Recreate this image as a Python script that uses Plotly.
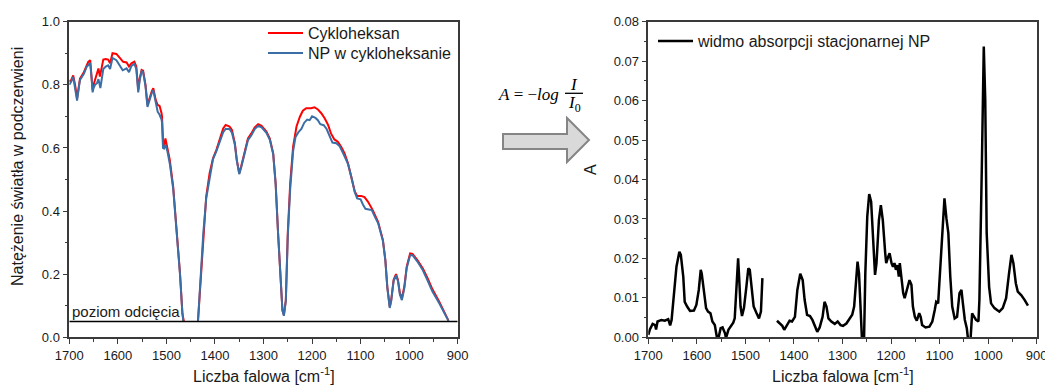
import plotly.graph_objects as go

# ---------------- data ----------------
CUTOFF = 0.05

# IR intensity, pure cyclohexane (None = gap below the cut-off level)
wn_cyclohexane = [
    1700, 1696, 1692, 1688, 1684, 1680, 1678, 1670, 1664, 1661, 1657, 1654, 1652, 1650,
    1647, 1643, 1640, 1637, 1633, 1630, 1625, 1620, 1616, 1613, 1611, 1603, 1596, 1589,
    1582, 1577, 1572, 1566, 1562, 1560, 1558, 1555, 1551, 1548, 1543, 1539, 1534, 1530,
    1527, 1522, 1518, 1514, 1510, 1509, 1507, 1505, 1502, 1498, 1493, 1486, 1479, 1472,
    1467, 1464, None,
    1435, 1431, 1424, 1418, 1411, 1404, 1397, 1390, 1383, 1378, 1370, 1365, 1359, 1355,
    1350, 1346, 1339, 1332, 1325, 1318, 1311, 1304, 1294, 1287, 1280, 1275, 1270, 1265,
    1261, 1258, 1254, 1250, 1245, 1239, 1232, 1225, 1219, 1212, 1202, 1195, 1188, 1181,
    1174, 1167, 1161, 1154, 1147, 1140, 1133, 1126, 1119, 1112, 1107, 1099, 1092, 1085,
    1075, 1064, 1054, 1049, 1045, 1040, 1037, 1032, 1027, 1023, 1019, 1015, 1010, 1005,
    998, 993, 983, 972, 962, 952, 938, 927, 919,
]
i_cyclohexane = [
    0.81, 0.815, 0.83, 0.80, 0.757, 0.80, 0.82, 0.84, 0.865, 0.873, 0.878, 0.83, 0.784, 0.80,
    0.815, 0.83, 0.852, 0.826, 0.86, 0.88, 0.882, 0.88, 0.868, 0.885, 0.90, 0.898, 0.885, 0.873,
    0.871, 0.858, 0.868, 0.873, 0.858, 0.82, 0.784, 0.82, 0.847, 0.845, 0.80, 0.736, 0.763, 0.78,
    0.789, 0.752, 0.736, 0.733, 0.71, 0.699, 0.625, 0.604, 0.63, 0.604, 0.562, 0.477, 0.35, 0.203,
    0.076, 0.05, None,
    0.05, 0.15, 0.33, 0.446, 0.52, 0.567, 0.594, 0.63, 0.662, 0.673, 0.668, 0.657, 0.615, 0.562,
    0.52, 0.541, 0.583, 0.63, 0.646, 0.665, 0.675, 0.67, 0.652, 0.63, 0.583, 0.488, 0.33, 0.171,
    0.086, 0.071, 0.118, 0.33, 0.488, 0.604, 0.668, 0.699, 0.718, 0.726, 0.726, 0.729, 0.722, 0.71,
    0.694, 0.673, 0.646, 0.627, 0.62, 0.604, 0.583, 0.551, 0.509, 0.462, 0.448, 0.448, 0.444, 0.43,
    0.403, 0.366, 0.308, 0.245, 0.16, 0.097, 0.118, 0.182, 0.20, 0.182, 0.139, 0.124, 0.16, 0.224,
    0.266, 0.264, 0.245, 0.219, 0.187, 0.152, 0.113, 0.081, 0.053,
]

# IR intensity, nanoparticles dispersed in cyclohexane
wn_np = [
    1700, 1696, 1692, 1688, 1684, 1680, 1678, 1670, 1664, 1661, 1657, 1654, 1652, 1650,
    1647, 1643, 1640, 1636, 1633, 1630, 1625, 1620, 1616, 1613, 1611, 1603, 1596, 1590,
    1582, 1577, 1572, 1566, 1562, 1560, 1558, 1555, 1551, 1548, 1543, 1539, 1534, 1530,
    1527, 1522, 1518, 1514, 1510, 1509, 1507, 1505, 1502, 1498, 1493, 1486, 1479, 1472,
    1467, 1465, None,
    1435, 1431, 1424, 1418, 1411, 1404, 1397, 1390, 1383, 1378, 1370, 1365, 1359, 1355,
    1350, 1346, 1339, 1332, 1325, 1318, 1311, 1304, 1294, 1287, 1280, 1275, 1270, 1265,
    1261, 1258, 1254, 1250, 1245, 1239, 1234, 1228, 1222, 1216, 1210, 1205, 1200, 1193,
    1188, 1183, 1176, 1170, 1164, 1158, 1150, 1143, 1135, 1126, 1119, 1112, 1107, 1100,
    1095, 1090, 1083, 1077, 1070, 1064, 1054, 1049, 1045, 1040, 1037, 1032, 1027, 1023,
    1019, 1015, 1010, 1005, 998, 993, 983, 972, 962, 952, 938, 927, 919,
]
i_np = [
    0.80, 0.81, 0.825, 0.79, 0.75, 0.795, 0.815, 0.835, 0.858, 0.862, 0.87, 0.82, 0.776, 0.79,
    0.80, 0.805, 0.818, 0.79, 0.83, 0.85, 0.858, 0.862, 0.85, 0.872, 0.885, 0.878, 0.86, 0.846,
    0.852, 0.84, 0.86, 0.866, 0.85, 0.81, 0.776, 0.815, 0.843, 0.84, 0.795, 0.73, 0.758, 0.775,
    0.783, 0.74, 0.715, 0.705, 0.69, 0.68, 0.60, 0.598, 0.61, 0.59, 0.55, 0.47, 0.345, 0.20,
    0.074, 0.05, None,
    0.05, 0.15, 0.33, 0.44, 0.51, 0.565, 0.59, 0.62, 0.65, 0.66, 0.66, 0.648, 0.61, 0.56,
    0.517, 0.538, 0.58, 0.625, 0.64, 0.66, 0.67, 0.665, 0.648, 0.626, 0.58, 0.485, 0.33, 0.17,
    0.085, 0.068, 0.115, 0.32, 0.47, 0.59, 0.635, 0.65, 0.66, 0.68, 0.69, 0.688, 0.70, 0.695,
    0.688, 0.675, 0.672, 0.66, 0.64, 0.617, 0.615, 0.605, 0.58, 0.55, 0.508, 0.46, 0.44, 0.437,
    0.42, 0.407, 0.405, 0.403, 0.38, 0.362, 0.305, 0.243, 0.158, 0.093, 0.115, 0.178, 0.196, 0.178,
    0.135, 0.118, 0.155, 0.22, 0.26, 0.26, 0.24, 0.213, 0.18, 0.145, 0.108, 0.078, 0.052,
]

# Stationary NP absorbance A = -log(I/I0)
wn_abs = [
    1700, 1697, 1691, 1686, 1684, 1681, 1673, 1666, 1659, 1655, 1652, 1647, 1642, 1636,
    1633, 1628, 1625, 1620, 1614, 1606, 1601, 1596, 1592, 1590, 1585, 1581, 1577, 1572,
    1568, 1563, 1559, 1556, 1551, 1547, 1542, 1540, 1535, 1531, 1525, 1522, 1518, 1515,
    1513, 1510, 1507, 1503, 1498, 1494, 1491, 1487, 1483, 1477, 1472, 1468, 1465, None,
    1435, 1429, 1424, 1420, 1414, 1409, 1404, 1398, 1393, 1387, 1382, 1378, 1373, 1367,
    1362, 1356, 1352, 1347, 1341, 1337, 1333, 1329, 1323, 1316, 1310, 1304, 1299, 1292,
    1285, 1280, 1276, 1273, 1269, 1266, 1263, 1259, 1256, 1253, 1249, 1245, 1241, 1237,
    1233, 1230, 1225, 1221, 1217, 1212, 1210, 1206, 1203, 1199, 1196, 1193, 1190, 1187,
    1184, 1182, 1179, 1175, 1172, 1167, 1162, 1158, 1155, 1151, 1147, 1142, 1139, 1136,
    1129, 1121, 1115, 1110, 1107, 1103, 1099, 1094, 1090, 1086, 1082, 1078, 1074, 1069,
    1064, 1059, 1055, 1052, 1048, 1044, 1040, 1037, 1033, 1030, 1025, 1020, 1018, 1013,
    1009, 1006, 1003, 998, 994, 987, 977, 970, 963, 957, 952, 948, 943, 939,
    932, 925, 918,
]
a_abs = [
    0.0006, 0.0019, 0.0034, 0.0031, 0.0020, 0.0040, 0.0044, 0.0042, 0.0046, 0.0030, 0.0044, 0.0103, 0.0179, 0.0217,
    0.0209, 0.0154, 0.0090, 0.0078, 0.0067, 0.0068, 0.0082, 0.0120, 0.0171, 0.0162, 0.0112, 0.0074, 0.0065, 0.0061,
    0.0040, 0.0031, 0.0002, -0.0005, 0.0023, 0.0025, 0.0010, -0.0002, 0.0019, 0.0027, 0.0037, 0.0048, 0.0128, 0.0200,
    0.0154, 0.0078, 0.0054, 0.0074, 0.0128, 0.0175, 0.0171, 0.0120, 0.0078, 0.0061, 0.0048, 0.0065, 0.0150, None,
    0.0042, 0.0035, 0.0029, 0.0019, 0.0031, 0.0042, 0.0040, 0.0052, 0.0120, 0.0161, 0.0145, 0.0095, 0.0057, 0.0054,
    0.0044, 0.0027, 0.0014, 0.0025, 0.0052, 0.0090, 0.0078, 0.0048, 0.0040, 0.0034, 0.0040, 0.0031, 0.0029, 0.0035,
    0.0048, 0.0057, 0.0078, 0.0120, 0.0192, 0.0162, 0.0052, -0.0030, -0.0030, 0.0162, 0.0306, 0.0363, 0.0344, 0.0238,
    0.0158, 0.0188, 0.0297, 0.0335, 0.0297, 0.0213, 0.0188, 0.0204, 0.0213, 0.0188, 0.0179, 0.0188, 0.0171, 0.0183,
    0.0154, 0.0188, 0.0154, 0.0112, 0.0099, 0.0120, 0.0145, 0.0133, 0.0078, 0.0052, 0.0042, 0.0061, 0.0052, 0.0031,
    0.0025, 0.0027, 0.0040, 0.0069, 0.0090, 0.0086, 0.0162, 0.0281, 0.0352, 0.0302, 0.0264, 0.0154, 0.0078, 0.0048,
    0.0052, 0.0112, 0.0120, 0.0086, 0.0044, 0.0023, -0.0020, -0.0020, 0.0061, 0.0054, 0.0044, 0.0040, 0.0095, 0.0433,
    0.0737, 0.0602, 0.0264, 0.0128, 0.0086, 0.0074, 0.0065, 0.0074, 0.0099, 0.0162, 0.0209, 0.0188, 0.0137, 0.0116,
    0.0107, 0.0095, 0.0080,
]

x_ticks = [1700, 1600, 1500, 1400, 1300, 1200, 1100, 1000, 900]
y_ticks_left = [0.0, 0.2, 0.4, 0.6, 0.8, 1.0]
y_ticks_right = [0.00, 0.01, 0.02, 0.03, 0.04, 0.05, 0.06, 0.07, 0.08]

# ---------------- figure ----------------
W, H = 1045, 388
FONT = "Arial, 'Liberation Sans', sans-serif"
SERIF = "'Cambria Math', 'Liberation Serif', 'DejaVu Serif', serif"


def px(x):
    return x / W


def py(y):
    return 1 - y / H


fig = go.Figure()

fig.add_trace(go.Scatter(
    x=wn_cyclohexane, y=i_cyclohexane, name="Cykloheksan", mode="lines",
    line=dict(color="#ff0000", width=2), xaxis="x", yaxis="y", legend="legend",
))
fig.add_trace(go.Scatter(
    x=wn_np, y=i_np, name="NP w cykloheksanie", mode="lines",
    line=dict(color="#3c6ea6", width=2), xaxis="x", yaxis="y", legend="legend3",
))
fig.add_trace(go.Scatter(
    x=wn_abs, y=a_abs, name="widmo absorpcji stacjonarnej NP", mode="lines",
    line=dict(color="#000000", width=2.5), xaxis="x2", yaxis="y2", legend="legend2",
))

axis_common = dict(
    showline=True, linecolor="#3a3a3a", linewidth=1.5, mirror=True,
    ticks="outside", ticklen=5, tickwidth=1.2, tickcolor="#3a3a3a",
    showgrid=False, zeroline=False, automargin=False,
    tickfont=dict(family=FONT, size=13, color="#1a1a1a"),
)
x_common = dict(
    axis_common, range=[1700, 900], tickvals=x_ticks, ticklabeloverflow="allow",
    minor=dict(ticks="outside", ticklen=3, tickwidth=1.2, tickcolor="#3a3a3a", dtick=50, tick0=900),
)

LEFT_X = [px(69.3), px(457.7)]
RIGHT_X = [px(648.3), px(1036.7)]
Y_DOM = [py(337.3), py(21.7)]

legend_style = dict(
    xanchor="left", yanchor="top", bgcolor="rgba(0,0,0,0)", borderwidth=0,
    font=dict(family=FONT, size=16, color="#1a1a1a"), itemwidth=35,
)

fig.update_layout(
    width=W, height=H,
    margin=dict(l=0, r=0, t=0, b=0, pad=0, autoexpand=False),
    paper_bgcolor="white", plot_bgcolor="white",
    font=dict(family=FONT, size=13, color="#1a1a1a"),
    xaxis=dict(x_common, domain=LEFT_X, anchor="y"),
    yaxis=dict(axis_common, domain=Y_DOM, anchor="x", range=[0, 1.0],
               tickvals=y_ticks_left, tickformat=".1f",
               minor=dict(ticks="outside", ticklen=3, tickwidth=1.2, tickcolor="#3a3a3a", dtick=0.1, tick0=0)),
    xaxis2=dict(x_common, domain=RIGHT_X, anchor="y2"),
    yaxis2=dict(axis_common, domain=Y_DOM, anchor="x2", range=[0, 0.08],
                tickvals=y_ticks_right, tickformat=".2f",
                minor=dict(ticks="outside", ticklen=3, tickwidth=1.2, tickcolor="#3a3a3a", dtick=0.005, tick0=0)),
    legend=dict(legend_style, x=px(263), y=py(16)),
    legend3=dict(legend_style, x=px(263), y=py(36)),
    legend2=dict(legend_style, x=px(653), y=py(24)),
    showlegend=True,
)

# cut-off level in the transmission panel
fig.add_shape(type="line", xref="x", yref="y", x0=1700, x1=900, y0=CUTOFF, y1=CUTOFF,
              line=dict(color="black", width=1.5))
fig.add_annotation(x=1700, y=CUTOFF, xref="x", yref="y", xanchor="left", yanchor="bottom",
                   xshift=1, text="poziom odcięcia", showarrow=False,
                   font=dict(family=FONT, size=15, color="#1a1a1a"))


def label(x, y, text, font, angle=0, xanchor="center", yanchor="middle"):
    fig.add_annotation(x=px(x), y=py(y), xref="paper", yref="paper", text=text,
                       textangle=angle, xanchor=xanchor, yanchor=yanchor,
                       showarrow=False, font=font)


# axis titles
title_font = dict(family=FONT, size=16, color="#1a1a1a")
label(17, 167, "Natężenie światła w podczerwieni", title_font, angle=-90)
label(590, 170, "A", title_font, angle=-90)
for cx in (263.5, 843):
    label(cx, 387, "Liczba falowa [cm<sup>-1</sup>]", title_font, yanchor="bottom")

# conversion formula A = -log I/I0
eq_font = dict(family=SERIF, size=17, color="black")
label(561, 94, "<i>A</i> = −<i>log</i>", eq_font, xanchor="right")
label(574, 84, "<i>I</i>", eq_font)
label(574, 104, "<i>I</i><sub>0</sub>", eq_font)
fig.add_shape(type="line", xref="paper", yref="paper", x0=px(565), x1=px(583),
              y0=py(93.3), y1=py(93.3), line=dict(color="black", width=1.3))

# block arrow between the panels
arrow = [(503, 134), (567, 134), (567, 118), (589, 140), (567, 162), (567, 149), (503, 149)]
path = "M " + " L ".join(f"{px(x):.5f},{py(y):.5f}" for x, y in arrow) + " Z"
fig.add_shape(type="path", xref="paper", yref="paper", path=path,
              fillcolor="#d9d9d9", line=dict(color="#858585", width=2))

fig.write_html("out.html")
